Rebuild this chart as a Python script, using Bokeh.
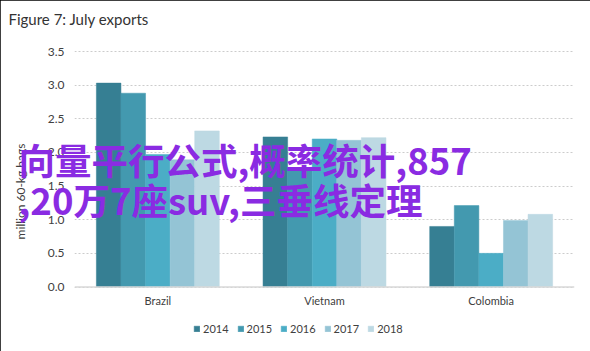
from bokeh.plotting import figure
from bokeh.models import (ColumnDataSource, FactorRange, Range1d, Legend, LegendItem, Span,
                          LinearAxis, FixedTicker, NumeralTickFormatter)
from bokeh.transform import dodge
from bokeh.embed import file_html
from bokeh.resources import INLINE

# ---- data ----
countries = ["Brazil", "Vietnam", "Colombia"]
years = ["2014", "2015", "2016", "2017", "2018"]
v2014 = [3.03, 2.23, 0.90]
v2015 = [2.88, 1.76, 1.21]
v2016 = [1.97, 2.20, 0.50]
v2017 = [1.89, 2.18, 0.99]
v2018 = [2.32, 2.22, 1.08]
y_ticks = [0.0, 0.5, 1.0, 1.5, 2.0, 2.5, 3.0, 3.5]
title_text = "Figure 7: July exports"
y_label = "million 60-kg bags"
overlay_lines = ["向量平行公式,概率统计,857", ",20万7座suv,三垂线定理"]

colors = ["#367F93", "#4399AF", "#4BADC6", "#94C4D5", "#BDD9E3"]

# ---- layout constants (pixels, from the top-left of the picture) ----
W, H = 590, 351
FL, FR = 74, 16
PLOT_TOP, PLOT_BOTTOM = 51, 286.5     # where 3.5 and 0 sit
FT, FB = 34, 4                        # frame margins (frame reaches down to the legend)
frame_bottom = H - FB
frame_h = frame_bottom - FT
unit_px = (PLOT_BOTTOM - PLOT_TOP) / y_ticks[-1]
y_start = -(frame_bottom - PLOT_BOTTOM) / unit_px
y_end = y_ticks[-1] + (PLOT_TOP - FT) / unit_px
font = "Lato"
txt_col = "#404040"

source = ColumnDataSource(dict(country=countries, y2014=v2014, y2015=v2015,
                               y2016=v2016, y2017=v2017, y2018=v2018))

p = figure(width=W, height=H, x_range=FactorRange(*countries, range_padding=0),
           y_range=Range1d(y_start, y_end), output_backend="svg", toolbar_location=None,
           min_border_left=FL, min_border_right=FR, min_border_top=FT,
           min_border_bottom=FB)
p.outline_line_color = None
p.background_fill_color = "white"
p.border_fill_color = "white"
p.styles = {"outline": "2px solid black", "outline-offset": "-2px"}
p.extra_y_ranges = {"px": Range1d(0, frame_h)}   # pixel scale measured from frame bottom

bw = 0.1475
offsets = [-2 * bw, -bw, 0, bw, 2 * bw]
renderers = []
for yr, off, c in zip(years, offsets, colors):
    r = p.vbar(x=dodge("country", off, range=p.x_range), top="y" + yr, width=bw,
               source=source, fill_color=c, line_color=c, line_width=0.5)
    renderers.append(r)

# baseline (category axis line at y = 0)
p.add_layout(Span(location=0, dimension="width", line_color="#d9d9d9", line_width=1.5))

# ---- axes ----
yax = p.yaxis[0]
yax.ticker = FixedTicker(ticks=y_ticks, minor_ticks=[])
yax.formatter = NumeralTickFormatter(format="0.0")
yax.axis_line_color = None
yax.major_tick_line_color = None
yax.minor_tick_line_color = None
yax.major_tick_out = 0
yax.minor_tick_out = 0
yax.major_label_text_font = font
yax.major_label_text_font_size = "12px"
yax.major_label_text_color = txt_col
yax.major_label_standoff = 10

xax = p.xaxis[0]
xax.axis_line_color = None
xax.major_tick_line_color = None
xax.minor_tick_line_color = None
xax.major_tick_out = 0
xax.minor_tick_out = 0
xax.major_label_text_font = font
xax.major_label_text_font_size = "11px"
xax.major_label_text_color = txt_col
xax.major_label_standoff = round(293 - frame_bottom)   # labels just under y = 0

p.xgrid.grid_line_color = None
p.ygrid.grid_line_color = "#cccccc"
p.ygrid.grid_line_dash = "2 2"
p.ygrid.grid_line_width = 1


def bare_axis(side_ticks, labels, **kw):
    return LinearAxis(y_range_name="px", ticker=FixedTicker(ticks=side_ticks, minor_ticks=[]),
                      major_label_overrides=dict(zip(side_ticks, labels)),
                      axis_line_color=None, major_tick_line_color=None,
                      minor_tick_line_color=None, major_tick_out=0, minor_tick_out=0,
                      major_tick_in=0, minor_tick_in=0, **kw)


# y-axis title, placed like the original (centre at y=191 from the top)
ylab_axis = bare_axis([round(frame_bottom - 191)], [y_label],
                      major_label_orientation="vertical", major_label_standoff=17,
                      major_label_text_font=font, major_label_text_font_size="12px",
                      major_label_text_color=txt_col)
p.add_layout(ylab_axis, "left")

# overlay text (two lines, left edge at x=18)
ov_ticks = [round(frame_bottom - 159), round(frame_bottom - 199)]
ov_axis = bare_axis(ov_ticks, overlay_lines, major_label_orientation="horizontal",
                    major_label_standoff=18 - (W - FR),
                    major_label_text_font="Noto Sans CJK SC",
                    major_label_text_font_size="36.5px", major_label_text_font_style="bold",
                    major_label_text_color="#8A2BE2")
p.add_layout(ov_axis, "right")

# ---- title ----
p.title.text = title_text
p.title.text_font = font
p.title.text_font_size = "15px"
p.title.text_font_style = "normal"
p.title.text_color = "#333333"
p.title.align = "left"
p.title.offset = -(FL - 8)
p.title.standoff = 14

# ---- legend ----
items = [LegendItem(label=yr, renderers=[r]) for yr, r in zip(years, renderers)]
legend = Legend(items=items, orientation="horizontal",
                location=(193 - FL, frame_bottom - 335),
                glyph_width=7, glyph_height=7, label_standoff=3, spacing=8,
                padding=0, margin=0, border_line_color=None, background_fill_alpha=0,
                label_text_font=font, label_text_font_size="11px",
                label_text_color=txt_col)
p.add_layout(legend, "center")

open("out.html", "w").write(file_html(p, INLINE))
